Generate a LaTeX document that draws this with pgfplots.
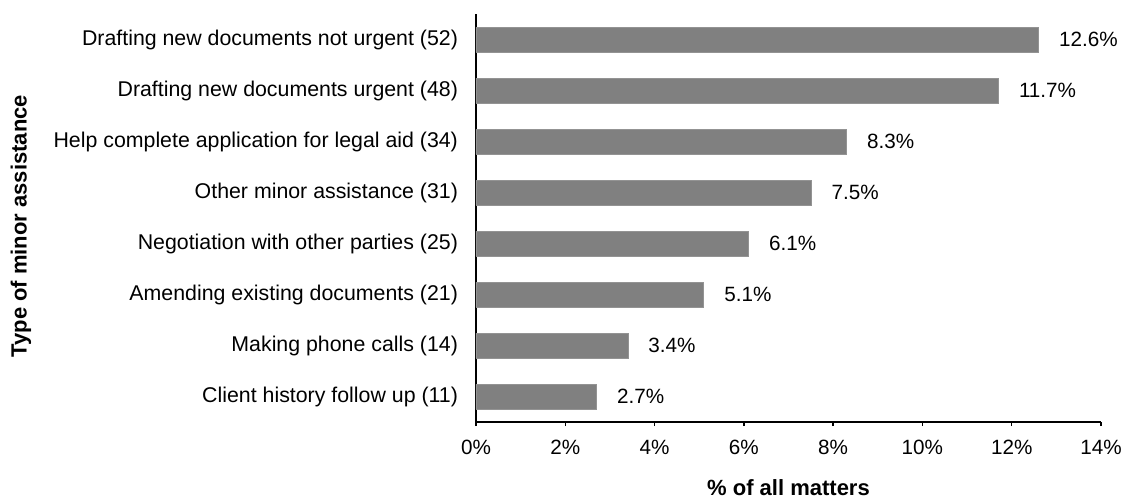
\documentclass[border=0pt]{standalone}
\usepackage{pgfplots}
\pgfplotsset{compat=1.18}
\usepackage{fontspec}
\setmainfont{Liberation Sans}
\definecolor{bargray}{HTML}{808080}
\begin{document}
\begin{tikzpicture}
\begin{axis}[
  width=468.75pt, height=306pt, scale only axis,
  xmin=0, xmax=14,
  ymin=-0.5, ymax=7.5, y dir=reverse,
  axis x line*=bottom, axis y line*=left,
  axis line style={line width=1pt, black, -},
  xtick={0,2,4,6,8,10,12,14},
  xticklabels={0\%,2\%,4\%,6\%,8\%,10\%,12\%,14\%},
  ytick={0,1,2,3,4,5,6,7},
  yticklabels={Drafting new documents not urgent (52),Drafting new documents urgent (48),Help complete application for legal aid (34),Other minor assistance (31),Negotiation with other parties (25),Amending existing documents (21),Making phone calls (14),Client history follow up (11)},
  tick label style={font=\fontsize{15.5}{18}\selectfont},
  yticklabel style={xshift=-7pt, font=\fontsize{16}{18}\selectfont},
  x tick style={line width=1pt, black}, tick align=outside, major tick length=3pt,
  y tick style={draw=none},
  xticklabel style={yshift=-7pt},
  xlabel={\textbf{\% of all matters}},
  ylabel={\textbf{Type of minor assistance}},
  label style={font=\fontsize{16.5}{19}\selectfont\bfseries},
  xlabel style={at={(axis description cs:0.5,-0.16)}, anchor=center},
  ylabel style={at={(axis description cs:-0.728,0.48)}, anchor=center},
  /pgf/number format/assume math mode=true,
  xbar, bar width=18.75pt,
  point meta=x,
  nodes near coords={\pgfmathprintnumber[fixed,precision=1,fixed zerofill]{\pgfplotspointmeta}\%},
  nodes near coords style={anchor=west, xshift=12pt, font=\fontsize{15.5}{18}\selectfont, black},
  clip=false,
]
\addplot[fill=bargray, draw=bargray!85] coordinates {
(12.6,0) (11.7,1) (8.3,2) (7.5,3) (6.1,4) (5.1,5) (3.4,6) (2.7,7)};
\end{axis}
\pgfresetboundingbox
\path ([xshift=-357pt,yshift=-59.25pt]current axis.south west) rectangle ([xshift=486pt,yshift=316.5pt]current axis.south west);
\end{tikzpicture}
\end{document}
